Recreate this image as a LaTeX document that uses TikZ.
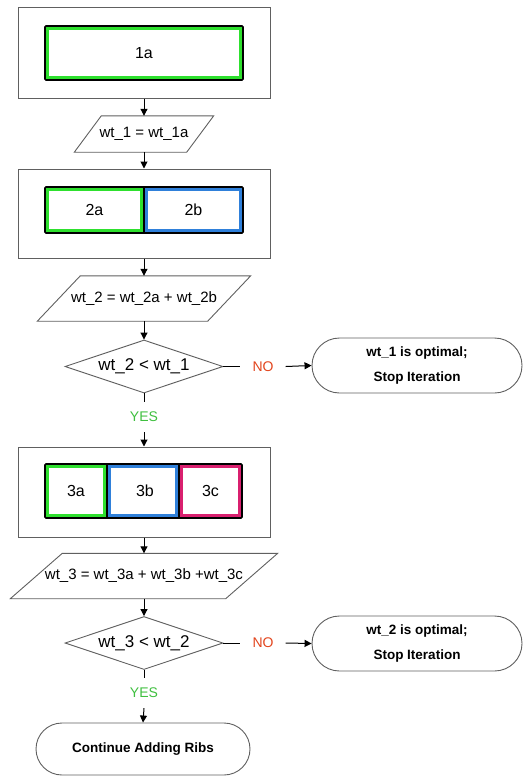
\documentclass[tikz,border=0pt]{standalone}
\usepackage{fontspec}
\setmainfont{Liberation Sans}
\usetikzlibrary{shapes.geometric,shapes.misc,arrows.meta}
\definecolor{edgegray}{HTML}{606060}
\definecolor{cellgreen}{HTML}{2EE02E}
\definecolor{cellblue}{HTML}{2F80DA}
\definecolor{cellpink}{HTML}{D9206F}
\definecolor{nored}{HTML}{E2441C}
\definecolor{yesgreen}{HTML}{3FBF3F}
\begin{document}
\begin{tikzpicture}[x=1pt,y=-1pt,
  outerbox/.style={draw=edgegray, line width=1pt, minimum width=252pt, inner sep=0pt},
  cellframe/.style={draw=black, line width=1.6pt, inner sep=0pt, rounded corners=1pt},
  cell/.style={line width=3pt, inner sep=0pt, font=\fontsize{16}{19}\selectfont},
  paratext/.style={inner sep=0pt, font=\fontsize{15}{18}\selectfont},
  paraline/.style={draw=edgegray, line width=0.9pt},
  decision/.style={diamond, draw=edgegray, line width=0.9pt, aspect=3, inner sep=0pt,
     minimum width=158pt, minimum height=53pt, font=\fontsize{17}{20}\selectfont},
  term/.style={rounded rectangle, draw=edgegray, line width=0.9pt, align=center,
     inner sep=0pt, font=\bfseries\fontsize{13.5}{25}\selectfont},
  arr/.style={-{Triangle[length=7pt,width=7pt]}, line width=1pt, black},
  conn/.style={line width=1pt, black},
  nolab/.style={text=nored, font=\fontsize{14}{16}\selectfont, inner xsep=12pt, inner ysep=0pt},
  yeslab/.style={text=yesgreen, font=\fontsize{14}{16}\selectfont, inner ysep=10pt, inner xsep=0pt}
]
\useasboundingbox (0,0) rectangle (526,776);

% ---------- block 1 ----------
\node[outerbox, minimum height=90pt] (ob1) at (144,53) {};
\node[cell, draw=cellgreen, minimum width=193.5pt, minimum height=49.5pt] (c1a) at (144,53) {1a};
\node[cellframe, minimum width=198pt, minimum height=54pt] (fr1) at (144,53) {};

% ---------- parallelogram 1 ----------
\node[paratext, minimum width=112pt, minimum height=36pt] (p1) at (144,134) {wt\_1 = wt\_1a};
\draw[paraline] ([xshift=-13.5pt]p1.south west) -- ([xshift=13.5pt]p1.north west)
  -- ([xshift=13.5pt]p1.north east) -- ([xshift=-13.5pt]p1.south east) -- cycle;

% ---------- block 2 ----------
\node[outerbox, minimum height=89pt] (ob2) at (144,213.5) {};
\node[cell, draw=cellgreen, minimum width=94.5pt, minimum height=41.5pt] (c2a) at (94.5,210) {2a};
\node[cell, draw=cellblue, minimum width=94.5pt, minimum height=41.5pt] (c2b) at (193.5,210) {2b};
\node[cellframe, minimum width=198pt, minimum height=46pt] (fr2) at (144,210) {};
\draw[black, line width=1.6pt] (fr2.north) -- (fr2.south);

% ---------- parallelogram 2 ----------
\node[paratext, minimum width=170pt, minimum height=45pt] (p2) at (144,298.5) {wt\_2 = wt\_2a + wt\_2b};
\draw[paraline] ([xshift=-21.5pt]p2.south west) -- ([xshift=21.5pt]p2.north west)
  -- ([xshift=21.5pt]p2.north east) -- ([xshift=-21.5pt]p2.south east) -- cycle;

% ---------- decision 1 ----------
\node[decision] (d1) at (144,366.5) {wt\_2 < wt\_1};
\node[nolab] (no1) at (263,366.5) {NO};
\node[term, minimum width=210pt, minimum height=55pt] (t1) at (417,365.5) {wt\_1 is optimal;\\Stop Iteration};
\node[yeslab] (yes1) at (144,417) {YES};

% ---------- block 3 ----------
\node[outerbox, minimum height=90pt] (ob3) at (144,492) {};
\node[cell, draw=cellgreen, minimum width=57.5pt, minimum height=49.5pt] (c3a) at (76,491) {3a};
\node[cell, draw=cellblue, minimum width=67.5pt, minimum height=49.5pt] (c3b) at (143,491) {\hspace*{4pt}3b};
\node[cell, draw=cellpink, minimum width=58.5pt, minimum height=49.5pt] (c3c) at (210.5,491) {3c};
\node[cellframe, minimum width=197pt, minimum height=54pt] (fr3) at (143.5,491) {};
\draw[black, line width=1.6pt] (107,464) -- (107,518);
\draw[black, line width=1.6pt] (179,464) -- (179,518);

% ---------- parallelogram 3 ----------
\node[paratext, minimum width=215pt, minimum height=45pt] (p3) at (144,576) {wt\_3 = wt\_3a + wt\_3b +wt\_3c};
\draw[paraline] ([xshift=-26pt]p3.south west) -- ([xshift=26pt]p3.north west)
  -- ([xshift=26pt]p3.north east) -- ([xshift=-26pt]p3.south east) -- cycle;

% ---------- decision 2 ----------
\node[decision] (d2) at (144,643) {wt\_3 < wt\_2};
\node[nolab] (no2) at (263,643) {NO};
\node[term, minimum width=210pt, minimum height=55pt] (t2) at (417,643.5) {wt\_2 is optimal;\\Stop Iteration};
\node[yeslab] (yes2) at (144,693) {YES};

% ---------- final terminal ----------
\node[term, minimum width=214pt, minimum height=52pt] (t3) at (143,749) {Continue Adding Ribs};

% ---------- connectors ----------
\draw[arr] (ob1.south) -- (p1.north);
\draw[arr] (p1.south) -- (ob2.north);
\draw[arr] (ob2.south) -- (p2.north);
\draw[arr] (p2.south) -- (d1.north);
\draw[conn] (d1.east) -- (no1.west);
\draw[arr] (no1.east) -- (t1.west);
\draw[conn] (d1.south) -- (yes1.north);
\draw[arr] (yes1.south) -- (ob3.north);
\draw[arr] (ob3.south) -- (p3.north);
\draw[arr] (p3.south) -- (d2.north);
\draw[conn] (d2.east) -- (no2.west);
\draw[arr] (no2.east) -- (t2.west);
\draw[conn] (d2.south) -- (yes2.north);
\draw[arr] (yes2.south) -- (t3.north);
\end{tikzpicture}
\end{document}
